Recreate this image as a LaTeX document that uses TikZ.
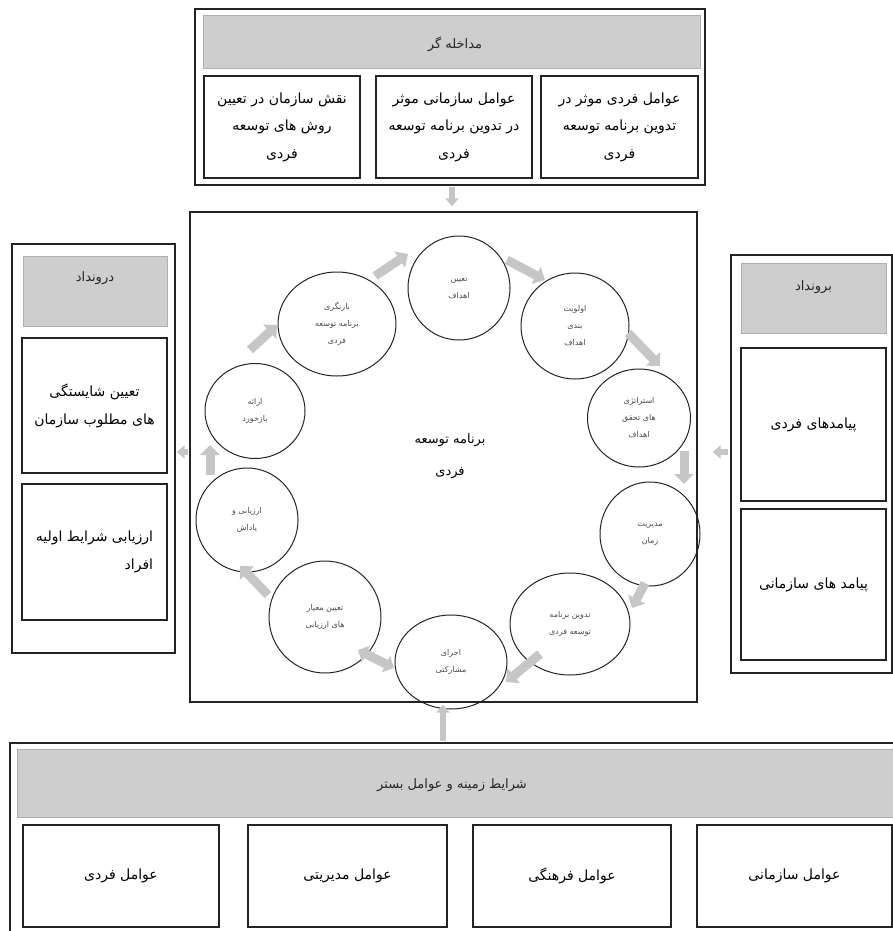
\documentclass[tikz,border=0pt]{standalone}
\usepackage{fontspec}
\usetikzlibrary{shapes.geometric,arrows.meta,calc}
\TeXXeTstate=1
\newfontfamily\fa[Script=Arabic]{DejaVu Sans}
\newcommand{\ftx}[1]{\beginR #1\endR}
\definecolor{hdr}{RGB}{206,206,206}
\definecolor{hdrline}{RGB}{175,175,175}
\definecolor{arr}{RGB}{198,198,198}
\definecolor{ink}{RGB}{35,35,35}
\begin{document}
\begin{tikzpicture}[x=1pt,y=-1pt,
  frame/.style={draw=ink, line width=1.3pt, inner sep=0pt},
  box/.style={draw=ink, line width=1.2pt, inner sep=2pt, align=center, font=\fa\fontsize{14}{28}\selectfont},
  topbx/.style={box, font=\fa\fontsize{14}{27.5}\selectfont},
  hdrbox/.style={fill=hdr, draw=hdrline, line width=0.6pt, inner sep=0pt},
  hdrtxt/.style={font=\fa\fontsize{13}{16}\selectfont, text=black!85},
  ring/.style={ellipse, draw=ink, line width=1pt, inner sep=0pt, align=center, font=\fa\fontsize{8}{17}\selectfont, text=black!70},
  blk/.style={draw=arr, line width=9pt, -{Triangle[length=10pt,width=19pt]}},
  dblk/.style={draw=arr, line width=9pt, {Triangle[length=9pt,width=18pt]}-{Triangle[length=9pt,width=18pt]}},
  sarr/.style={draw=arr, line width=6pt, -{Triangle[length=8pt,width=13pt]}}
]
\clip (0,0) rectangle (893,931);
\useasboundingbox (0,0) rectangle (893,931);

% ---------- top: intervening ----------
\node[frame, minimum width=510pt, minimum height=176pt] (topbox) at (450,97) {};
\node[hdrbox, minimum width=497pt, minimum height=53pt] (tophdr) at (451.5,41.5) {};
\node[hdrtxt] (tophdrtxt) at (455,44) {\ftx{مداخله گر}};
\node[topbx, minimum width=156pt, minimum height=102pt] (t1) at (282,127)
  {\ftx{نقش سازمان در تعیین}\\\ftx{روش های توسعه}\\\ftx{فردی}};
\node[topbx, minimum width=156pt, minimum height=102pt] (t2) at (454,127)
  {\ftx{عوامل سازمانی موثر}\\\ftx{در تدوین برنامه توسعه}\\\ftx{فردی}};
\node[topbx, minimum width=157pt, minimum height=102pt] (t3) at (619.5,127)
  {\ftx{عوامل فردی موثر در}\\\ftx{تدوین برنامه توسعه}\\\ftx{فردی}};

% ---------- main process box ----------
\node[frame, minimum width=507pt, minimum height=490pt] (mainbox) at (443.5,457) {};
\node[font=\fa\fontsize{13}{32}\selectfont, align=center] (ctr) at (450,456)
  {\ftx{برنامه توسعه}\\\ftx{فردی}};

\node[ring, minimum width=102pt, minimum height=104pt] (c1) at (459,288) {\ftx{تعیین}\\\ftx{اهداف}};
\node[ring, minimum width=108pt, minimum height=106pt] (c2) at (575,326) {\ftx{اولویت}\\\ftx{بندی}\\\ftx{اهداف}};
\node[ring, minimum width=103pt, minimum height=98pt] (c3) at (639,418) {\ftx{استراتژی}\\\ftx{های تحقق}\\\ftx{اهداف}};
\node[ring, minimum width=100pt, minimum height=104pt] (c4) at (650,534) {\ftx{مدیریت}\\\ftx{زمان}};
\node[ring, minimum width=120pt, minimum height=102pt] (c5) at (570,624) {\ftx{تدوین برنامه}\\\ftx{توسعه فردی}};
\node[ring, minimum width=112pt, minimum height=94pt] (c6) at (451,662) {\ftx{اجرای}\\\ftx{مشارکتی}};
\node[ring, minimum width=112pt, minimum height=112pt] (c7) at (325,617) {\ftx{تعیین معیار}\\\ftx{های ارزیابی}};
\node[ring, minimum width=102pt, minimum height=104pt] (c8) at (247,520) {\ftx{ارزیابی و}\\\ftx{پاداش}};
\node[ring, minimum width=100pt, minimum height=95pt] (c9) at (255,411) {\ftx{ارائه}\\\ftx{بازخورد}};
\node[ring, minimum width=118pt, minimum height=104pt] (c10) at (337,324) {\ftx{بازنگری}\\\ftx{برنامه توسعه}\\\ftx{فردی}};

\draw[blk] ($(c9)+(-5,-61)$) -- ($(c10)+(-60,1)$);
\draw[blk] ($(c10)+(38,-48)$) -- ($(c1)+(-51,-34)$);
\draw[blk] ($(c1)+(48,-28)$) -- ($(c2)+(-30,-46)$);
\draw[blk] ($(c2)+(53,7)$) -- ($(c3)+(21,-52)$);
\draw[blk] ($(c3)+(45,33)$) -- ($(c4)+(34,-50)$);
\draw[blk] ($(c4)+(-5,49)$) -- ($(c5)+(62,-16)$);
\draw[blk] ($(c5)+(-30,30)$) -- ($(c6)+(55,20)$);
\draw[dblk] ($(c6)+(-57,6)$) -- ($(c7)+(33,33)$);
\draw[blk] ($(c7)+(-57,-22)$) -- ($(c8)+(-7,46)$);
\draw[blk] ($(c8)+(-37,-45)$) -- ($(c9)+(-45,34)$);

% ---------- left: input ----------
\node[frame, minimum width=163pt, minimum height=409pt] (leftbox) at (93.5,448.5) {};
\node[hdrbox, minimum width=144pt, minimum height=70pt] (lhdr) at (95,291) {};
\node[hdrtxt] (lhdrtxt) at (95,278) {\ftx{درونداد}};
\node[box, minimum width=145pt, minimum height=135pt] (l1) at (94.5,405.5)
  {\ftx{تعیین شایستگی}\\\ftx{های مطلوب سازمان}};
\node[box, minimum width=145pt, minimum height=136pt, align=right] (l2) at (94.5,552)
  {\ftx{ارزیابی شرایط اولیه}\\\ftx{افراد}};

% ---------- right: output ----------
\node[frame, minimum width=161pt, minimum height=418pt] (rightbox) at (811.5,464) {};
\node[hdrbox, minimum width=145pt, minimum height=70pt] (rhdr) at (813.5,298) {};
\node[hdrtxt] (rhdrtxt) at (813.5,287) {\ftx{برونداد}};
\node[box, minimum width=145pt, minimum height=153pt] (r1) at (813.5,424.5) {\ftx{پیامدهای فردی}};
\node[box, minimum width=145pt, minimum height=151pt] (r2) at (813.5,584.5) {\ftx{پیامد های سازمانی}};

% ---------- bottom: context ----------
\node[frame, minimum width=895pt, minimum height=202pt] (botbox) at (457.5,844) {};
\node[hdrbox, minimum width=883pt, minimum height=68pt] (bhdr) at (458.5,783) {};
\node[hdrtxt] (bhdrtxt) at (452,785) {\ftx{شرایط زمینه و عوامل بستر}};
\node[box, minimum width=196pt, minimum height=102pt] (b1) at (121,876) {\ftx{عوامل فردی}};
\node[box, minimum width=199pt, minimum height=102pt] (b2) at (347.5,876) {\ftx{عوامل مدیریتی}};
\node[box, minimum width=198pt, minimum height=102pt] (b3) at (572,876) {\ftx{عوامل فرهنگی}};
\node[box, minimum width=195pt, minimum height=102pt] (b4) at (794.5,876) {\ftx{عوامل سازمانی}};

% ---------- links between panels ----------
\draw[sarr] ($(topbox.south)+(2,1)$) -- ($(mainbox.north)+(8.5,-5)$);
\draw[sarr] ($(botbox.north)+(-14.5,-1)$) -- ($(mainbox.south)+(-0.5,2)$);
\draw[sarr] ($(mainbox.west)+(-1,-5)$) -- ($(leftbox.east)+(1,3.5)$);
\draw[sarr] ($(rightbox.west)+(-2,-12)$) -- ($(mainbox.east)+(15,-5)$);
\end{tikzpicture}
\end{document}
